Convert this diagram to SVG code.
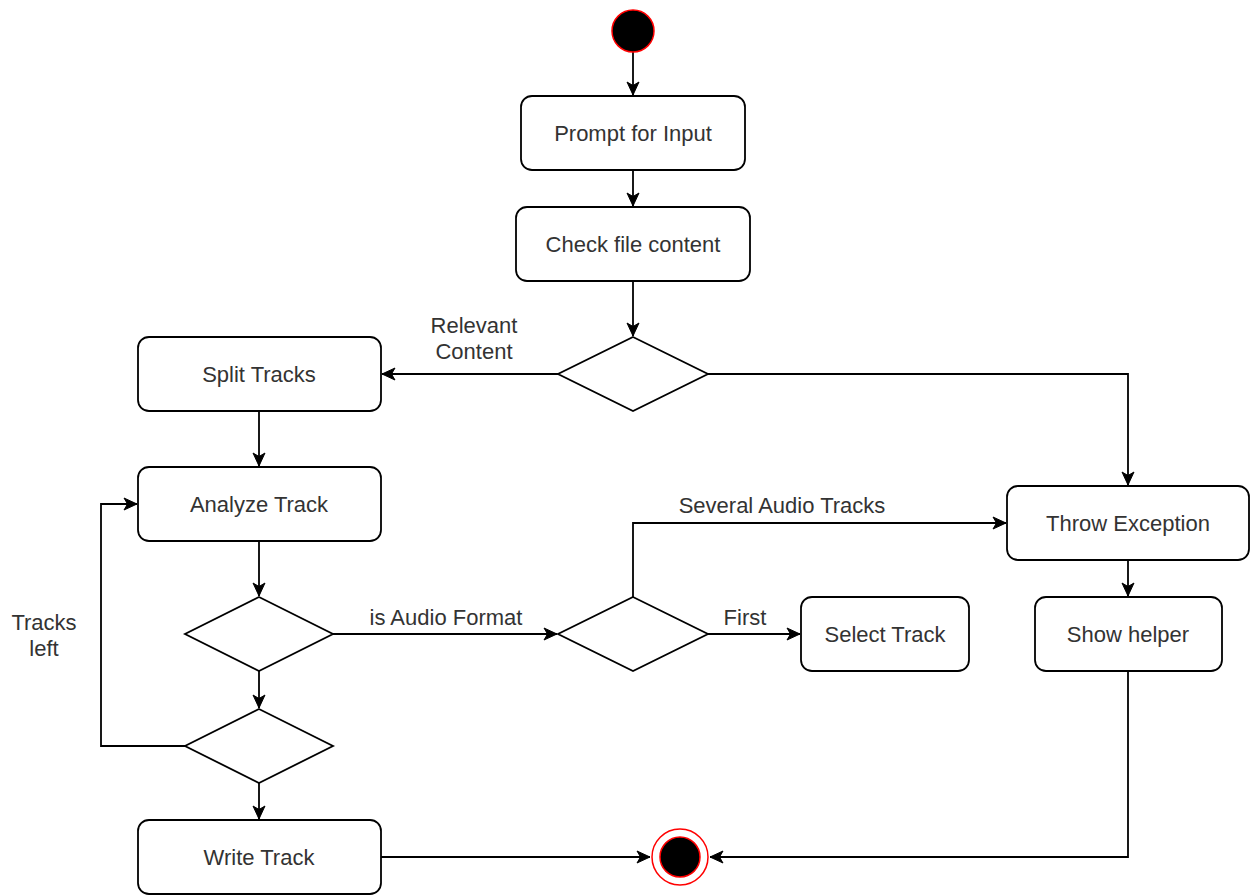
<svg xmlns="http://www.w3.org/2000/svg" width="1250" height="895" viewBox="0 0 1250 895">
  <style>
    .box { fill: #ffffff; stroke: #000000; stroke-width: 1.8; }
    .dec { fill: #ffffff; stroke: #000000; stroke-width: 1.8; }
    .lbl { font-family: "Liberation Sans", Arial, sans-serif; font-size: 22px; fill: #333333; text-anchor: middle; }
    .edge { fill: none; stroke: #000000; stroke-width: 1.8; marker-end: url(#arrow); }
  </style>
  <defs>
    <marker id="arrow" markerUnits="userSpaceOnUse" markerWidth="16" markerHeight="16" viewBox="0 0 16 16" refX="14" refY="8" orient="auto">
      <path d="M1,2 L14,8 L1,14 L4.5,8 Z" fill="#000000" stroke="#000000" stroke-width="1"/>
    </marker>
  </defs>

  <rect width="1250" height="895" fill="#ffffff"/>

  <!-- connectors -->
  <g id="connectors">
    <path class="edge" d="M633,52 L633,95"/>
    <path class="edge" d="M633,170 L633,206"/>
    <path class="edge" d="M633,281 L633,336"/>
    <path class="edge" d="M558,374 L382,374"/>
    <path class="edge" d="M708,374 L1128,374 L1128,485"/>
    <path class="edge" d="M259,411 L259,466"/>
    <path class="edge" d="M259,541 L259,596"/>
    <path class="edge" d="M333,634 L557,634"/>
    <path class="edge" d="M708,634 L800,634"/>
    <path class="edge" d="M633,597 L633,523 L1006,523"/>
    <path class="edge" d="M1128,560 L1128,596"/>
    <path class="edge" d="M259,671 L259,708"/>
    <path class="edge" d="M185,746 L101,746 L101,504 L137,504"/>
    <path class="edge" d="M259,783 L259,819"/>
    <path class="edge" d="M381,857 L650,857"/>
    <path class="edge" d="M1128,671 L1128,857 L710,857"/>
    <text class="lbl" x="474" y="333">Relevant</text>
    <text class="lbl" x="474" y="359">Content</text>
    <text class="lbl" x="446" y="625">is Audio Format</text>
    <text class="lbl" x="745" y="625">First</text>
    <text class="lbl" x="782" y="513">Several Audio Tracks</text>
    <text class="lbl" x="44" y="630">Tracks</text>
    <text class="lbl" x="44" y="656">left</text>
  </g>

  <g id="start">
    <circle cx="633" cy="31" r="21" fill="#000000" stroke="#ff0000" stroke-width="1.5"/>
  </g>

  <g id="prompt">
    <rect class="box" x="521" y="96" width="224" height="74" rx="11"/>
    <text class="lbl" x="633" y="141">Prompt for Input</text>
  </g>

  <g id="check">
    <rect class="box" x="516" y="207" width="234" height="74" rx="11"/>
    <text class="lbl" x="633" y="252">Check file content</text>
  </g>

  <g id="decision-content">
    <polygon class="dec" points="633,337 708,374 633,411 558,374"/>
  </g>

  <g id="split">
    <rect class="box" x="138" y="337" width="243" height="74" rx="11"/>
    <text class="lbl" x="259" y="382">Split Tracks</text>
  </g>

  <g id="analyze">
    <rect class="box" x="138" y="467" width="243" height="74" rx="11"/>
    <text class="lbl" x="259" y="512">Analyze Track</text>
  </g>

  <g id="decision-audio">
    <polygon class="dec" points="259,597 333,634 259,671 185,634"/>
  </g>

  <g id="decision-tracks">
    <polygon class="dec" points="633,597 708,634 633,671 558,634"/>
  </g>

  <g id="select">
    <rect class="box" x="801" y="597" width="168" height="74" rx="11"/>
    <text class="lbl" x="885" y="642">Select Track</text>
  </g>

  <g id="throw">
    <rect class="box" x="1007" y="486" width="242" height="74" rx="11"/>
    <text class="lbl" x="1128" y="531">Throw Exception</text>
  </g>

  <g id="helper">
    <rect class="box" x="1035" y="597" width="187" height="74" rx="11"/>
    <text class="lbl" x="1128" y="642">Show helper</text>
  </g>

  <g id="decision-left">
    <polygon class="dec" points="259,709 333,746 259,783 185,746"/>
  </g>

  <g id="write">
    <rect class="box" x="138" y="820" width="243" height="74" rx="11"/>
    <text class="lbl" x="259" y="865">Write Track</text>
  </g>

  <g id="end">
    <circle cx="680" cy="857" r="28" fill="#ffffff" stroke="#ff0000" stroke-width="1.5"/>
    <circle cx="680" cy="857" r="20" fill="#000000" stroke="#ff0000" stroke-width="1.5"/>
  </g>
</svg>
